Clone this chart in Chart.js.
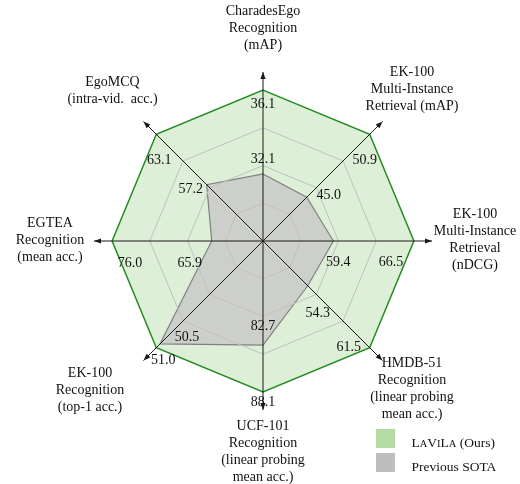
<!DOCTYPE html>
<html>
<head>
<meta charset="utf-8">
<script src="https://cdn.jsdelivr.net/npm/chart.js@4.4.1/dist/chart.umd.min.js"></script>
<style>
  html, body { margin: 0; padding: 0; background: #fff; }
  #wrap { width: 520px; height: 484px; }
</style>
</head>
<body>
<div id="wrap"><canvas id="radar" width="520" height="484"></canvas></div>
<script>
// axes, clockwise from the top
const axisTitles = [
  ["CharadesEgo", "Recognition", "(mAP)"],
  ["EK-100", "Multi-Instance", "Retrieval (mAP)"],
  ["EK-100", "Multi-Instance", "Retrieval", "(nDCG)"],
  ["HMDB-51", "Recognition", "(linear probing", "mean acc.)"],
  ["UCF-101", "Recognition", "(linear probing", "mean acc.)"],
  ["EK-100", "Recognition", "(top-1 acc.)"],
  ["EGTEA", "Recognition", "(mean acc.)"],
  ["EgoMCQ", "(intra-vid.  acc.)"]
];
const lavilaValues = [36.1, 50.9, 66.5, 61.5, 88.1, 51.0, 76.0, 63.1];
const sotaValues = [32.1, 45.0, 59.4, 54.3, 82.7, 50.5, 65.9, 57.2];
// every axis has its own range, LaViLa sits on the outer ring
const axisMin = [28.9, 40.9, 53.2, 49.1, 70.7, 36.7, 60.7, 50.6];
const axisMax = [36.1, 50.9, 66.5, 61.5, 88.1, 51.0, 76.0, 63.1];
const gridLevels = [0.25, 0.5, 0.75];
const axisEnd = 1.12;

// label placement (pixels, relative to the point / arrow tip)
const sotaLabelShift = [[0, -15], [22, -2], [5, 21], [10, 28], [0, -19], [27, -7], [-22, 22], [-16, 5]];
const lavilaLabelShift = [[0, 14], [-5, 26], [-23, 21], [-21, 0], [0, 10], [7, 13], [18, 22], [3, 26]];
const titleShift = [[0, -44], [29.5, -32.5], [43, -1], [29.5, 28], [0, 42], [-53.5, 30], [-44, -1], [-31, -30.5]];

const FONT = '"Liberation Serif", "Times New Roman", serif';
const GREEN = 'rgb(34,139,34)';
const GREEN_FILL = 'rgba(120,190,90,0.25)';
const GREEN_KEY = 'rgba(120,190,90,0.55)';
const GRAY_FILL = 'rgba(200,200,200,0.8)';
const GRAY_KEY = 'rgb(190,190,190)';

const norm = (vals) => vals.map((v, i) => (v - axisMin[i]) / (axisMax[i] - axisMin[i]));

function drawSmallCaps(ctx, text, x, y, big, small) {
  for (const ch of text) {
    const upper = ch === ch.toUpperCase();
    ctx.font = (upper ? big : small) + 'px ' + FONT;
    const c = ch.toUpperCase();
    ctx.fillText(c, x, y);
    x += ctx.measureText(c).width;
  }
  return x;
}

const overlay = {
  id: 'overlay',
  afterDatasetsDraw(chart) {
    const s = chart.scales.r;
    const ctx = chart.ctx;
    const n = axisTitles.length;
    ctx.save();

    // grid rings
    ctx.strokeStyle = 'rgb(192,192,192)';
    ctx.lineWidth = 1;
    gridLevels.forEach((lv) => {
      ctx.beginPath();
      for (let i = 0; i < n; i++) {
        const p = s.getPointPositionForValue(i, lv);
        if (i === 0) ctx.moveTo(p.x, p.y); else ctx.lineTo(p.x, p.y);
      }
      ctx.closePath();
      ctx.stroke();
    });

    // axes with arrow heads
    ctx.strokeStyle = '#1a1a1a';
    ctx.fillStyle = '#1a1a1a';
    for (let i = 0; i < n; i++) {
      const tip = s.getPointPositionForValue(i, axisEnd);
      ctx.beginPath();
      ctx.moveTo(s.xCenter, s.yCenter);
      ctx.lineTo(tip.x, tip.y);
      ctx.stroke();
      const a = tip.angle;
      const len = 7, hw = 2.6;
      const bx = tip.x - Math.cos(a) * len, by = tip.y - Math.sin(a) * len;
      ctx.beginPath();
      ctx.moveTo(tip.x, tip.y);
      ctx.lineTo(bx - Math.sin(a) * hw, by + Math.cos(a) * hw);
      ctx.lineTo(bx + Math.sin(a) * hw, by - Math.cos(a) * hw);
      ctx.closePath();
      ctx.fill();
    }

    // value labels
    ctx.font = '14px ' + FONT;
    ctx.fillStyle = '#111';
    ctx.textAlign = 'center';
    ctx.textBaseline = 'middle';
    const sotaR = norm(sotaValues), lavR = norm(lavilaValues);
    for (let i = 0; i < n; i++) {
      let p = s.getPointPositionForValue(i, sotaR[i]);
      ctx.fillText(sotaValues[i].toFixed(1), p.x + sotaLabelShift[i][0], p.y + sotaLabelShift[i][1]);
      p = s.getPointPositionForValue(i, lavR[i]);
      ctx.fillText(lavilaValues[i].toFixed(1), p.x + lavilaLabelShift[i][0], p.y + lavilaLabelShift[i][1]);
    }

    // axis titles
    const lh = 17;
    for (let i = 0; i < n; i++) {
      const tip = s.getPointPositionForValue(i, axisEnd);
      const cx = tip.x + titleShift[i][0], cy = tip.y + titleShift[i][1];
      const lines = axisTitles[i];
      lines.forEach((t, k) => {
        ctx.fillText(t, cx, cy + (k - (lines.length - 1) / 2) * lh);
      });
    }

    // legend
    ctx.fillStyle = GREEN_KEY;
    ctx.fillRect(376, 429, 19, 19);
    ctx.fillStyle = GRAY_KEY;
    ctx.fillRect(376, 453, 19, 19);
    ctx.fillStyle = '#111';
    ctx.textAlign = 'left';
    ctx.textBaseline = 'alphabetic';
    let x = drawSmallCaps(ctx, 'LaViLa', 411.5, 447, 13.5, 10.5);
    ctx.font = '13.5px ' + FONT;
    ctx.fillText(' (Ours)', x, 447);
    ctx.fillText('Previous SOTA', 411.5, 471);

    ctx.restore();
  }
};

new Chart(document.getElementById('radar'), {
  type: 'radar',
  data: {
    labels: axisTitles,
    datasets: [
      {
        label: 'Previous SOTA',
        data: norm(sotaValues),
        backgroundColor: GRAY_FILL,
        borderColor: 'rgb(128,128,128)',
        borderWidth: 1.2,
        fill: true,
        pointRadius: 0
      },
      {
        label: 'LaViLa (Ours)',
        data: norm(lavilaValues),
        backgroundColor: GREEN_FILL,
        borderColor: GREEN,
        borderWidth: 1.5,
        fill: true,
        pointRadius: 0
      }
    ]
  },
  plugins: [overlay],
  options: {
    responsive: false,
    animation: false,
    layout: { padding: { left: 94, right: 88, top: 72, bottom: 74 } },
    plugins: { legend: { display: false }, tooltip: { enabled: false } },
    scales: {
      r: {
        min: 0,
        max: axisEnd,
        ticks: { display: false },
        grid: { display: false },
        angleLines: { display: false },
        pointLabels: { display: false }
      }
    }
  }
});
</script>
</body>
</html>
